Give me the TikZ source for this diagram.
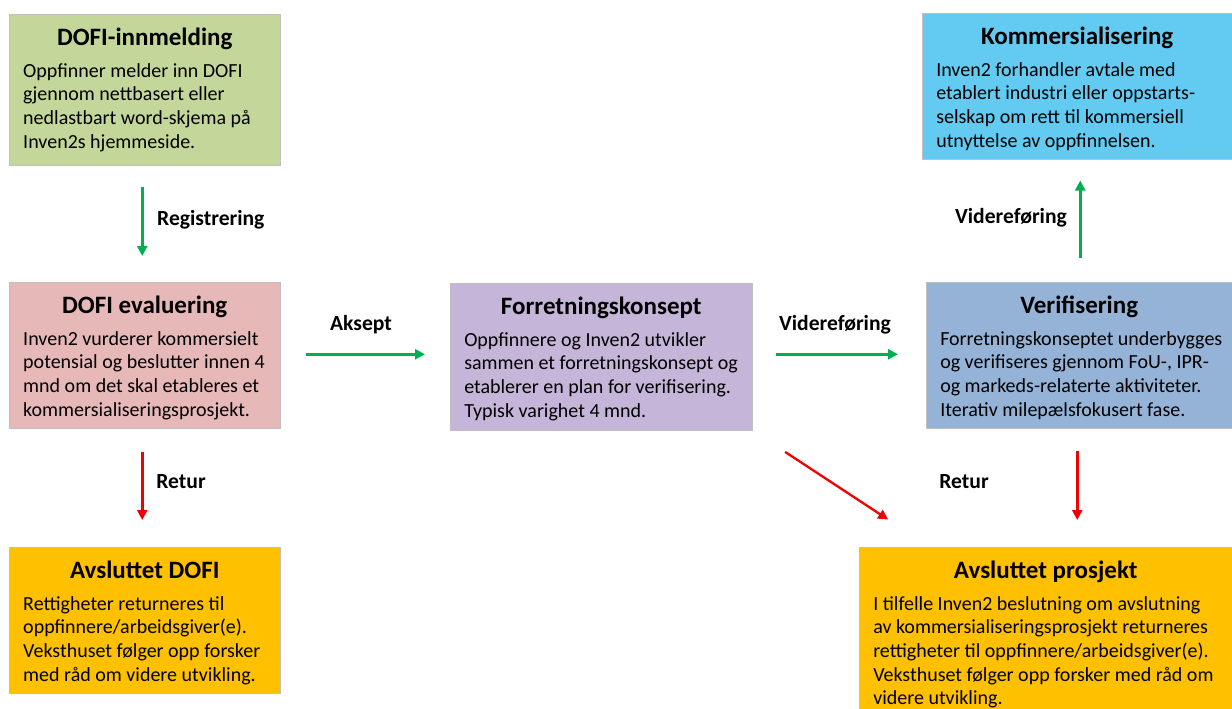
\documentclass[tikz,border=0pt]{standalone}
\usepackage{fontspec}
\setmainfont{Carlito}
\usetikzlibrary{arrows.meta,calc}
\definecolor{cGreen}{HTML}{C4D79B}
\definecolor{cBlue}{HTML}{63CBF1}
\definecolor{cPink}{HTML}{E6B9B8}
\definecolor{cLav}{HTML}{C5B6D9}
\definecolor{cSteel}{HTML}{95B3D7}
\definecolor{cOrange}{HTML}{FFC000}
\definecolor{aGreen}{HTML}{00B050}
\definecolor{aRed}{HTML}{F00000}
\newcommand{\boxtxt}[4]{\parbox[t][#2][t]{#1}{\centering\fontsize{25}{28}\selectfont\bfseries\rule{0pt}{31pt}#3\par\vspace{8.2pt}\raggedright\normalfont\fontsize{20}{23.7}\selectfont\begin{tabular}[t]{@{}l@{}}#4\end{tabular}}}
\begin{document}
\begin{tikzpicture}[x=1pt,y=-1pt,
  box/.style={draw=black!25, line width=0.5pt, inner sep=0pt, anchor=north west},
  garrow/.style={draw=aGreen, line width=2.7pt, -{Triangle[length=10pt,width=10pt]}},
  rarrow/.style={draw=aRed, line width=2.7pt, -{Triangle[length=10pt,width=10pt]}},
  lbl/.style={font=\fontsize{21.6}{24}\selectfont\bfseries, inner sep=0pt}]
\useasboundingbox (0,0) rectangle (1232,709);
\clip (0,0) rectangle (1232,709);

\node[box, fill=cGreen, minimum width=271pt, minimum height=151pt] (inn) at (9,14)
  {\boxtxt{243pt}{151pt}{DOFI-innmelding}{Oppfinner melder inn DOFI\\gjennom nettbasert eller\\nedlastbart word-skjema på\\Inven2s hjemmeside.}};
\node[box, fill=cBlue, minimum width=310pt, minimum height=146pt] (komm) at (922,13)
  {\boxtxt{282pt}{146pt}{Kommersialisering}{Inven2 forhandler avtale med\\etablert industri eller oppstarts-\\selskap om rett til kommersiell\\utnyttelse av oppfinnelsen.}};
\node[box, fill=cPink, minimum width=271pt, minimum height=146pt] (eval) at (9,282)
  {\boxtxt{243pt}{146pt}{DOFI evaluering}{Inven2 vurderer kommersielt\\potensial og beslutter innen 4\\mnd om det skal etableres et\\kommersialiseringsprosjekt.}};
\node[box, fill=cLav, minimum width=302pt, minimum height=147pt] (konsept) at (450,283)
  {\boxtxt{274pt}{147pt}{Forretningskonsept}{Oppfinnere og Inven2 utvikler\\sammen et forretningskonsept og\\etablerer en plan for verifisering.\\Typisk varighet 4 mnd.}};
\node[box, fill=cSteel, minimum width=306pt, minimum height=146pt] (verif) at (926,282)
  {\boxtxt{278pt}{146pt}{Verifisering}{Forretningskonseptet underbygges\\og verifiseres gjennom FoU-, IPR-\\og markeds-relaterte aktiviteter.\\Iterativ milepælsfokusert fase.}};
\node[box, fill=cOrange, minimum width=271pt, minimum height=146pt] (avsdofi) at (9,547)
  {\boxtxt{243pt}{146pt}{Avsluttet DOFI}{Rettigheter returneres til\\oppfinnere/arbeidsgiver(e).\\Veksthuset følger opp forsker\\med råd om videre utvikling.}};
\node[box, fill=cOrange, minimum width=373pt, minimum height=175pt] (avsprosj) at (859,547)
  {\boxtxt{345pt}{175pt}{Avsluttet prosjekt}{I tilfelle Inven2 beslutning om avslutning\\av kommersialiseringsprosjekt returneres\\rettigheter til oppfinnere/arbeidsgiver(e).\\Veksthuset følger opp forsker med råd om\\videre utvikling.}};

\draw[garrow, shorten <=21pt, shorten >=26pt] ([xshift=-2.5pt]inn.south) -- ([xshift=-2.5pt]eval.north);
\draw[garrow, shorten <=25pt, shorten >=25pt] ([yshift=1pt]eval.east) -- ([yshift=1pt]eval.east -| konsept.west);
\draw[garrow, shorten <=23pt, shorten >=28pt] ([yshift=2.5pt]konsept.east) -- ([yshift=2.5pt]konsept.east -| verif.west);
\draw[garrow, shorten <=24pt, shorten >=21pt] ([xshift=1pt]verif.north) -- ([xshift=1pt]verif.north |- komm.south);
\draw[rarrow, shorten <=23pt, shorten >=27pt] ([xshift=-2.5pt]eval.south) -- ([xshift=-2.5pt]avsdofi.north);
\draw[rarrow, shorten <=22pt, shorten >=27pt] ([xshift=-2pt]verif.south) -- ([xshift=-2pt]verif.south |- avsprosj.north);
\draw[rarrow, line width=2.3pt, shorten <=39pt, shorten >=50pt] (konsept.south east) -- ($(avsprosj.north west)+(71,0)$);

\node[lbl, anchor=west] (lreg) at (157,220) {Registrering};
\node[lbl] (laks) at (361,325) {Aksept};
\node[lbl] (lvid1) at (835,325) {Videreføring};
\node[lbl] (lvid2) at (1011,218) {Videreføring};
\node[lbl] (lret1) at (181,482) {Retur};
\node[lbl] (lret2) at (964,482) {Retur};
\end{tikzpicture}
\end{document}
